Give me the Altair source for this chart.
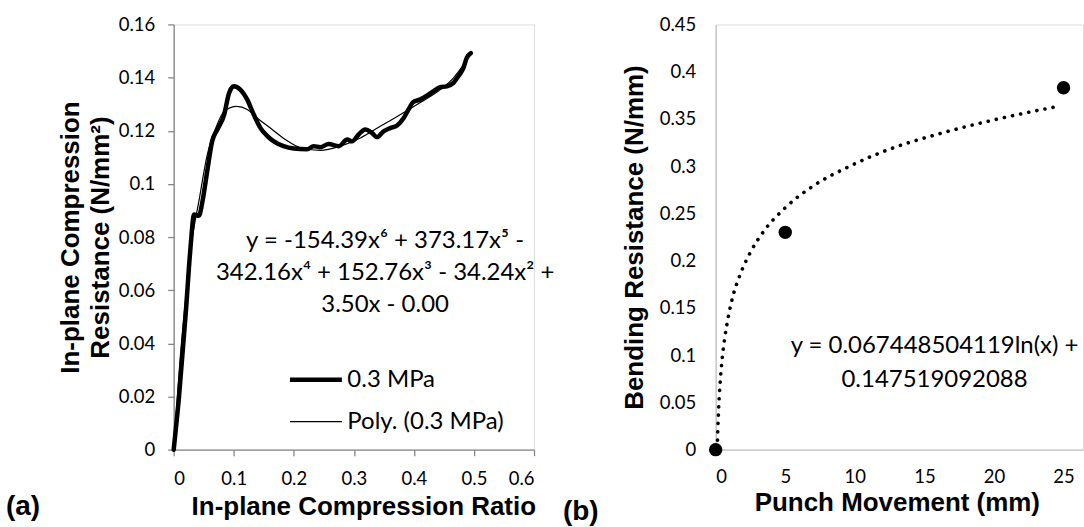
import altair as alt
import pandas as pd

# ---------------- Panel (a) data ----------------
series_names = ["0.3 MPa", "Poly. (0.3 MPa)"]

exp_x = [0, 0.0088, 0.02, 0.028, 0.034, 0.042, 0.048, 0.056, 0.064, 0.073, 0.084, 0.092,
         0.1, 0.111, 0.1225, 0.1335, 0.1446, 0.156, 0.1667, 0.183, 0.2, 0.222, 0.233,
         0.244, 0.258, 0.275, 0.289, 0.297, 0.308, 0.319, 0.33, 0.3385, 0.3495, 0.3606,
         0.372, 0.383, 0.391, 0.399, 0.41, 0.4216, 0.4326, 0.4437, 0.455, 0.4658, 0.474,
         0.4825, 0.488, 0.4948]
exp_y = [0, 0.0197, 0.051, 0.076, 0.0885, 0.088, 0.0935, 0.105, 0.116, 0.1205, 0.126, 0.134,
         0.1367, 0.1355, 0.1317, 0.126, 0.121, 0.118, 0.116, 0.1142, 0.1133, 0.113, 0.1142,
         0.1138, 0.115, 0.1142, 0.1167, 0.116, 0.1186, 0.1205, 0.1192, 0.1176, 0.1198, 0.121,
         0.122, 0.1248, 0.128, 0.1308, 0.1317, 0.1332, 0.1349, 0.1364, 0.1367, 0.138, 0.1405,
         0.1436, 0.1474, 0.1492]

poly_x = [0, 0.01, 0.02, 0.03, 0.042, 0.056, 0.07, 0.084, 0.105, 0.1225, 0.139, 0.164, 0.186,
          0.211, 0.244, 0.2775, 0.311, 0.344, 0.377, 0.41, 0.444, 0.466, 0.4825, 0.4926]
poly_y = [0, 0.032, 0.057, 0.078, 0.0935, 0.111, 0.121, 0.1273, 0.1292, 0.128, 0.1248, 0.1205,
          0.1167, 0.1136, 0.1126, 0.1142, 0.1173, 0.1217, 0.126, 0.1305, 0.1355, 0.1399,
          0.1449, 0.1487]

x_ticks_a = [0, 0.1, 0.2, 0.3, 0.4, 0.5, 0.6]
y_ticks_a = [0, 0.02, 0.04, 0.06, 0.08, 0.1, 0.12, 0.14, 0.16]

eq_a_lines = ["y = -154.39x⁶ + 373.17x⁵ -", "342.16x⁴ + 152.76x³ - 34.24x² +", "3.50x - 0.00"]
eq_a_x = [0.352]
eq_a_y = [0.0785]

# ---------------- Panel (b) data ----------------
punch_mm = [0, 5, 25]
bending = [0, 0.23, 0.383]

trend_x = [0.13, 0.2, 0.3, 0.45, 0.65, 0.9, 1.25, 1.75, 2.5, 3.5, 5, 7, 9.5, 12.5, 16, 20, 24.5]
trend_y = [0.01, 0.039, 0.066, 0.094, 0.118, 0.14, 0.163, 0.185, 0.209, 0.232, 0.256, 0.279,
           0.299, 0.318, 0.334, 0.349, 0.363]

x_ticks_b = [0, 5, 10, 15, 20, 25]
y_ticks_b = [0, 0.05, 0.1, 0.15, 0.2, 0.25, 0.3, 0.35, 0.4, 0.45]

eq_b_lines = ["y = 0.067448504119ln(x) +", "0.147519092088"]
eq_b_x = [15.73]
eq_b_y = [0.11]

# ---------------- styling ----------------
TICK_FONT = "Lato"
TICK_SIZE = 18.5
TEXT_SIZE = 24
TITLE_FONT = "Liberation Sans"
TITLE_SIZE = 26

W_A, W_B, H = 361, 368, 426


def axis(values, fmt, title, tx, ty, angle, baseline, color, ticks, pad, tick_size=6, line_height=None):
    kw = dict(values=values, format=fmt, title=title, grid=False,
              domainColor=color, domainWidth=1.3, ticks=ticks, tickColor=color,
              tickSize=tick_size, tickWidth=1.3,
              labelFont=TICK_FONT, labelFontSize=TICK_SIZE, labelColor="black",
              labelPadding=pad,
              titleFont=TITLE_FONT, titleFontSize=TITLE_SIZE, titleFontWeight="bold",
              titleColor="black", titleX=tx, titleY=ty, titleAngle=angle,
              titleAlign="center", titleBaseline=baseline)
    if line_height is not None:
        kw["titleLineHeight"] = line_height
    return alt.Axis(**kw)


# ---------------- Panel (a) chart ----------------
df_a = pd.concat([
    pd.DataFrame({"x": exp_x, "y": exp_y, "series": series_names[0]}),
    pd.DataFrame({"x": poly_x, "y": poly_y, "series": series_names[1]}),
], ignore_index=True)

xa = alt.X("x:Q", scale=alt.Scale(domain=[0, 0.6], nice=False),
           axis=axis(x_ticks_a, ".1~f", "In-plane Compression Ratio", 190, 65, 0,
                     "alphabetic", "#868686", True, 14))
ya = alt.Y("y:Q", scale=alt.Scale(domain=[0, 0.16], nice=False),
           axis=axis(y_ticks_a, ".2~f", ["In-plane Compression", "Resistance (N/mm²)"],
                     -103.5, H / 2, 270, "middle", "#868686", True, 13, line_height=30))

lines_a = alt.Chart(df_a).mark_line(
    color="black", interpolate="monotone", strokeCap="round", strokeJoin="round"
).encode(
    x=xa, y=ya,
    strokeWidth=alt.StrokeWidth(
        "series:N",
        scale=alt.Scale(domain=series_names, range=[4.5, 1.2]),
        legend=alt.Legend(title=None, orient="none", legendX=114, legendY=335,
                          symbolType="stroke", symbolSize=2704, symbolStrokeColor="black",
                          labelFont=TICK_FONT, labelFontSize=TEXT_SIZE, labelColor="black",
                          labelOffset=3, clipHeight=42, rowPadding=0, padding=0),
    ),
)

eq_a = alt.Chart(pd.DataFrame({"x": eq_a_x, "y": eq_a_y})).mark_text(
    font=TICK_FONT, fontSize=TEXT_SIZE, color="black", align="center",
    baseline="middle", lineHeight=32
).encode(x="x:Q", y="y:Q", text=alt.value(eq_a_lines))

lab_a = alt.Chart(pd.DataFrame({"t": ["(a)"]})).mark_text(
    font=TITLE_FONT, fontSize=28, fontWeight="bold", color="black",
    align="left", baseline="middle"
).encode(x=alt.value(-168), y=alt.value(483), text="t:N")

panel_a = alt.layer(lines_a, eq_a, lab_a).properties(width=W_A, height=H)

# ---------------- Panel (b) chart ----------------
df_pts = pd.DataFrame({"x": punch_mm, "y": bending})
df_trend = pd.DataFrame({"x": trend_x, "y": trend_y})

xb = alt.X("x:Q", scale=alt.Scale(domain=[0, 26.4], nice=False),
           axis=axis(x_ticks_b, "d", "Punch Movement (mm)", 181.5, 61, 0,
                     "alphabetic", "#c4c4c4", False, 18, tick_size=0))
yb = alt.Y("y:Q", scale=alt.Scale(domain=[0, 0.45], nice=False),
           axis=axis(y_ticks_b, ".2~f", "Bending Resistance (N/mm)", -81, H / 2, 270,
                     "middle", "#c4c4c4", False, 20, tick_size=0))

trend_b = alt.Chart(df_trend).mark_line(
    color="black", strokeDash=[0.1, 8.2], strokeWidth=3.6, strokeCap="round",
    interpolate="monotone"
).encode(x=xb, y=yb)

pts_b = alt.Chart(df_pts).mark_circle(size=180, color="black", opacity=1).encode(
    x="x:Q", y="y:Q")

eq_b = alt.Chart(pd.DataFrame({"x": eq_b_x, "y": eq_b_y})).mark_text(
    font=TICK_FONT, fontSize=TEXT_SIZE, color="black", align="center",
    baseline="middle", lineHeight=34
).encode(x="x:Q", y="y:Q", text=alt.value(eq_b_lines))

lab_b = alt.Chart(pd.DataFrame({"t": ["(b)"]})).mark_text(
    font=TITLE_FONT, fontSize=28, fontWeight="bold", color="black",
    align="left", baseline="middle"
).encode(x=alt.value(-153), y=alt.value(488), text="t:N")

panel_b = alt.layer(trend_b, pts_b, eq_b, lab_b).properties(width=W_B, height=H)

chart = alt.hconcat(panel_a, panel_b, spacing=182, bounds="flush").properties(
    padding={"left": 5, "top": 14, "right": 0, "bottom": 0}
).configure_view(stroke="transparent").configure(font=TICK_FONT, background="white")

chart.save("out.html", embed_options={"renderer": "svg", "actions": False})
